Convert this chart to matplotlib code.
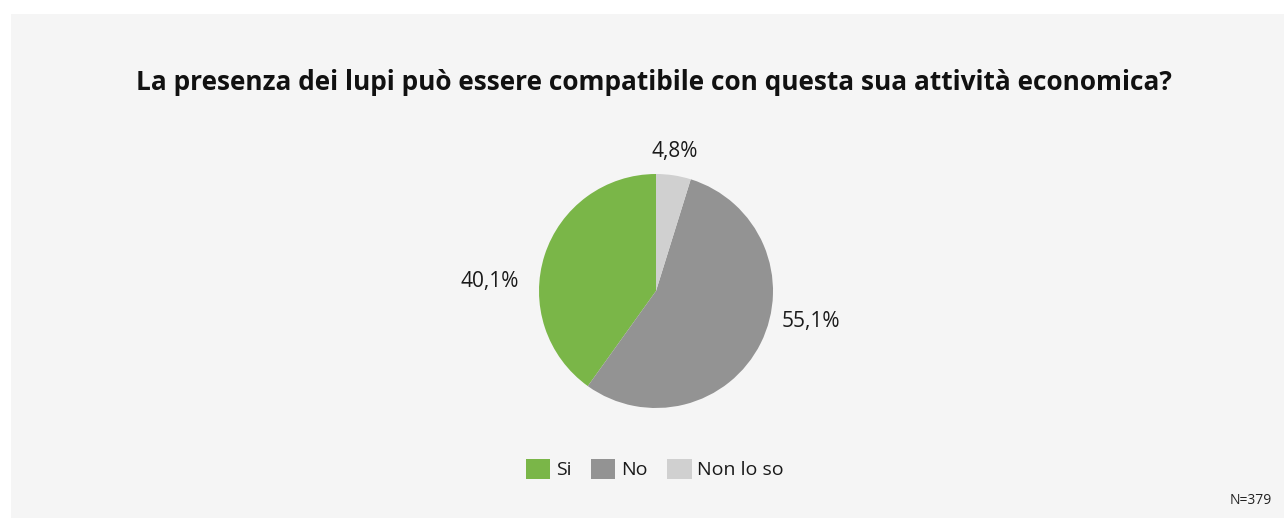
import matplotlib
matplotlib.use("Agg")
import matplotlib.pyplot as plt
from matplotlib.patches import Rectangle

# Data
categories = ["Si", "No", "Non lo so"]
values = [40.1, 55.1, 4.8]
value_labels = ["40,1%", "55,1%", "4,8%"]
colors = ["#7ab648", "#939393", "#d0d0d0"]
title = "La presenza dei lupi può essere compatibile con questa sua attività economica?"
note = "N=379"

plt.rcParams['font.family'] = ['Open Sans', 'DejaVu Sans']

W, H = 1284, 518
fig = plt.figure(figsize=(W / 100, H / 100), dpi=100, facecolor="white")
fig.patches.append(Rectangle((11 / W, 0), 1 - 11 / W, 1 - 14 / H,
                             transform=fig.transFigure, facecolor="#f5f5f5",
                             edgecolor="none", zorder=-10))

# pie axes: center (656,291) px, radius 117 px
lim = 1.6
size = 2 * lim * 117
cx, cy = 656, H - 291
ax = fig.add_axes([(cx - size / 2) / W, (cy - size / 2) / H, size / W, size / H])
ax.set_zorder(5)
ax.patch.set_visible(False)
wedges, _ = ax.pie(values, colors=colors, startangle=90, counterclock=True,
                   radius=1.0, wedgeprops=dict(linewidth=0))
ax.set_xlim(-lim, lim)
ax.set_ylim(-lim, lim)
ax.set_aspect("equal")
ax.axis("off")

label_pos = [(-1.42, 0.08), (1.32, -0.26), (0.16, 1.19)]
for txt, (x, y) in zip(value_labels, label_pos):
    ax.text(x, y, txt, ha="center", va="center", fontsize=15, color="#1a1a1a")

fig.text(654 / W, 1 - 83 / H, title, ha="center", va="center",
         fontsize=18.9, fontweight="bold", color="#111111")

fig.legend(wedges, categories, loc="center", bbox_to_anchor=(655 / W, 1 - 469 / H),
           ncol=3, frameon=False, fontsize=14, handlelength=1.25, handleheight=1.25,
           handletextpad=0.3, columnspacing=1.0, labelcolor="#1a1a1a")

fig.text(1272 / W, 1 - 500 / H, note, ha="right", va="center", fontsize=10,
         color="#222222")

fig.savefig("out.png", dpi=100, facecolor="white")
